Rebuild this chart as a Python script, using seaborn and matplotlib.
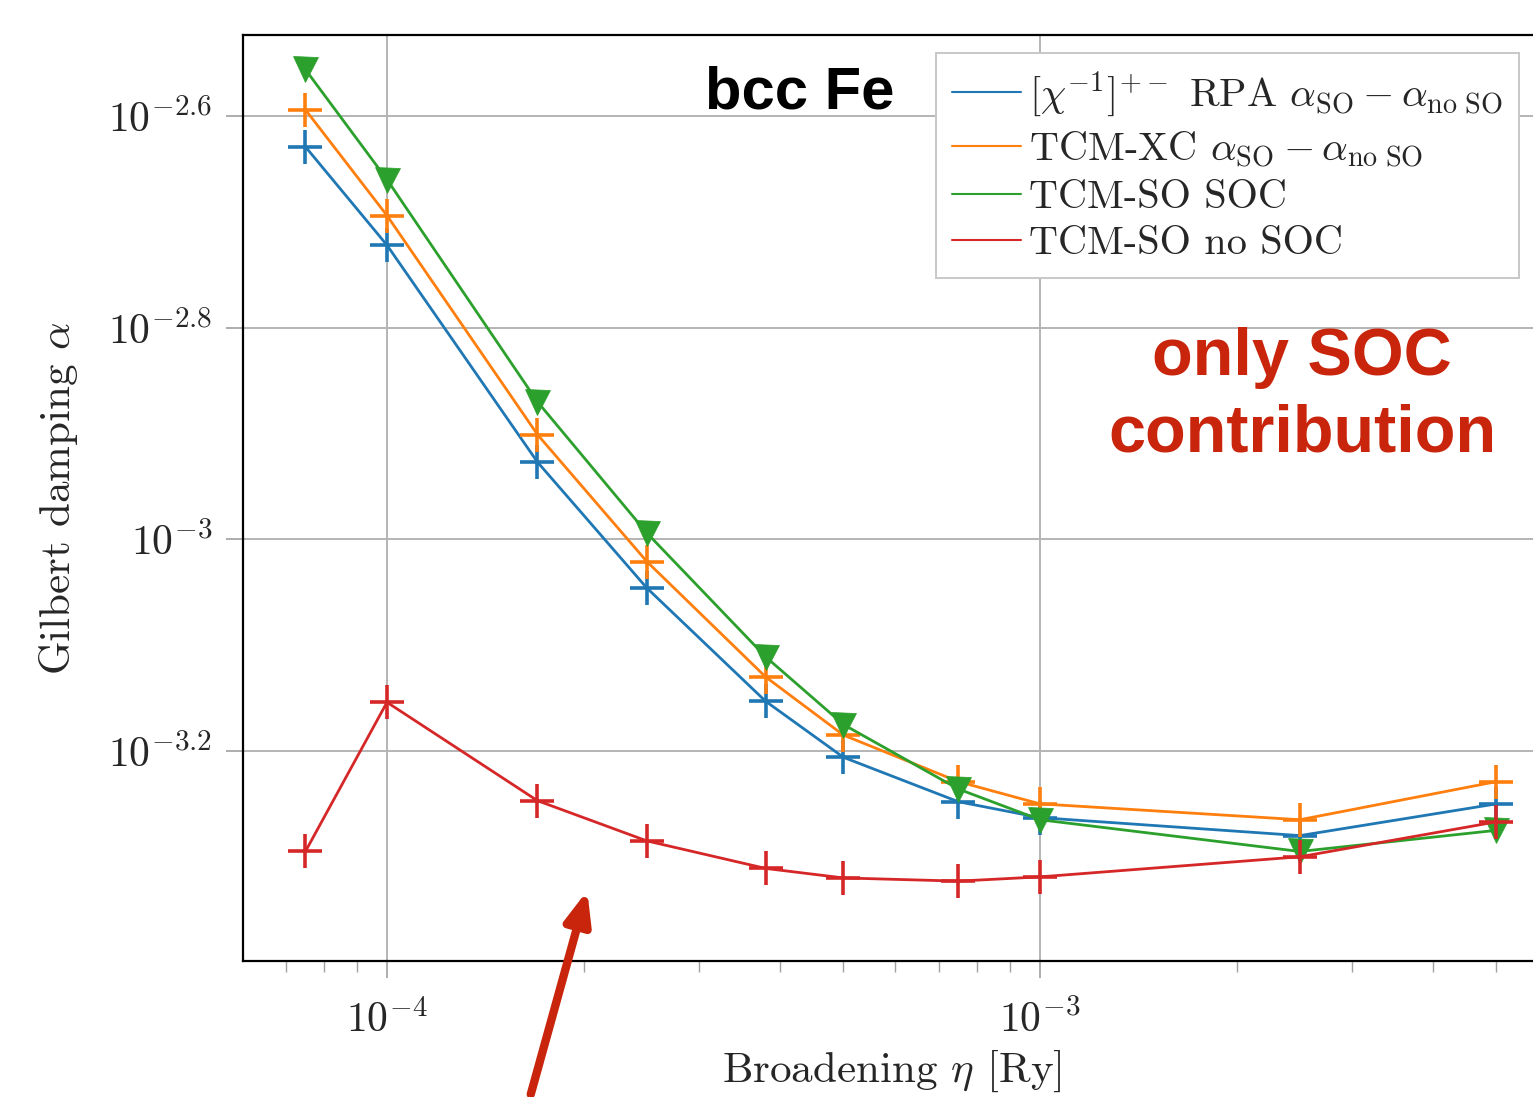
import matplotlib

matplotlib.use("Agg")
import matplotlib.pyplot as plt
import numpy as np
import pandas as pd
import seaborn as sns
from matplotlib.lines import Line2D
from matplotlib.ticker import FixedLocator, FixedFormatter, NullFormatter

# ---------------------------------------------------------------------------
# data (log10 of alpha)
# ---------------------------------------------------------------------------
eta = [7.5e-5, 1.0e-4, 1.7e-4, 2.5e-4, 3.8e-4, 5.0e-4, 7.5e-4, 1.0e-3, 2.5e-3, 5.0e-3]

log_rpa = [-2.629, -2.722, -2.927, -3.046, -3.153, -3.206, -3.248, -3.263, -3.280, -3.250]
log_xc = [-2.594, -2.694, -2.901, -3.021, -3.130, -3.185, -3.229, -3.250, -3.265, -3.229]
log_so = [-2.556, -2.660, -2.870, -2.994, -3.111, -3.175, -3.236, -3.265, -3.295, -3.275]
log_nosoc = [-3.295, -3.154, -3.247, -3.285, -3.311, -3.320, -3.323, -3.319, -3.300, -3.267]

labels = [
    r"$[\chi^{-1}]^{+-}$ RPA $\alpha_{\rm SO} - \alpha_{\rm no\ SO}$",
    r"TCM-XC $\alpha_{\rm SO} - \alpha_{\rm no\ SO}$",
    "TCM-SO SOC",
    "TCM-SO no SOC",
]
colors = ["#1f77b4", "#ff7f0e", "#2ca02c", "#d62728"]
markers = ["+", "+", "v", "+"]

y_ticks = [-2.6, -2.8, -3.0, -3.2]
y_ticklabels = [r"$10^{-2.6}$", r"$10^{-2.8}$", r"$10^{-3}$", r"$10^{-3.2}$"]

sns.set_theme(style="whitegrid")
plt.rcParams["font.family"] = ["cmr10", "DejaVu Serif"]
plt.rcParams["mathtext.fontset"] = "cm"
plt.rcParams["axes.unicode_minus"] = False
plt.rcParams["axes.formatter.use_mathtext"] = True

W, H = 1533, 1097
fig = plt.figure(figsize=(W / 100, H / 100), dpi=100)
ax = fig.add_axes([243 / W, 1 - 961 / H, 1297 / W, 926 / H])

series = [log_rpa, log_xc, log_so, log_nosoc]
for vals, lab, col, mk in zip(series, labels, colors, markers):
    df = pd.DataFrame({"eta": eta, "alpha": 10 ** np.array(vals)})
    if mk == "+":
        kw = dict(markersize=24, markeredgewidth=2.6, markeredgecolor=col)
    else:
        kw = dict(markersize=18, markeredgewidth=0.5, markeredgecolor=col,
                  markerfacecolor=col)
    sns.lineplot(data=df, x="eta", y="alpha", color=col, marker=mk,
                 linewidth=2.0, ax=ax, label=lab, legend=False, **kw)

ax.set_xscale("log")
ax.set_yscale("log")
ax.set_xlim(10 ** -4.2205, 10 ** -2.2343)
ax.set_ylim(10 ** -3.3985, 10 ** -2.5234)

ax.yaxis.set_major_locator(FixedLocator([10 ** v for v in y_ticks]))
ax.yaxis.set_major_formatter(FixedFormatter(y_ticklabels))
ax.yaxis.set_minor_locator(FixedLocator([]))
ax.yaxis.set_minor_formatter(NullFormatter())
ax.xaxis.set_major_locator(FixedLocator([1e-4, 1e-3]))
ax.xaxis.set_major_formatter(FixedFormatter([r"$10^{-4}$", r"$10^{-3}$"]))
minor_x = [m * 10.0 ** e for e in (-5, -4, -3) for m in range(2, 10)]
ax.xaxis.set_minor_locator(FixedLocator(minor_x))
ax.xaxis.set_minor_formatter(NullFormatter())

ax.grid(True, which="major", color="#b4b4b4", linewidth=1.4)
ax.grid(False, which="minor")
ax.tick_params(axis="both", which="major", direction="out", length=12,
               width=1.2, color="#a0a0a0", labelsize=30, pad=10)
ax.tick_params(axis="x", which="major", pad=16, bottom=True)
ax.tick_params(axis="x", which="minor", direction="out", length=8,
               width=1.0, color="#a0a0a0", bottom=True)
ax.tick_params(axis="y", which="major", left=True)
for sp in ax.spines.values():
    sp.set_edgecolor("black")
    sp.set_linewidth(1.6)
ax.set_facecolor("white")

ax.set_xlabel(r"Broadening $\eta$ [Ry]", fontsize=31, labelpad=6)
ax.set_ylabel(r"Gilbert damping $\alpha$", fontsize=31, labelpad=20)

handles = [Line2D([], [], color=c, linewidth=1.5) for c in colors]
leg = ax.legend(handles, labels, loc="upper left",
                bbox_to_anchor=((936 - 243) / 1297, 1 - (53 - 35) / 926),
                borderaxespad=0, fontsize=29, frameon=True, fancybox=False,
                edgecolor="#c8c8c8", framealpha=1, handlelength=1.7,
                handletextpad=0.2, labelspacing=0.25, borderpad=0.4)
leg.get_frame().set_linewidth(1.4)

fig.text(800 / W, 1 - 93 / H, "bcc Fe", fontsize=43, fontweight="bold",
         family="Liberation Sans", ha="center", va="center", color="black")
fig.text(1302 / W, 1 - 396 / H, "only SOC\ncontribution", fontsize=48,
         fontweight="bold", family="Liberation Sans", ha="center",
         va="center", color="#c8250c", linespacing=1.3)

# arrow pointing at the no-SOC curve, starting below the axes
ax.annotate("", xy=(588 / W, 1 - 888 / H), xycoords="figure fraction",
            xytext=(530 / W, 0.0), textcoords="figure fraction",
            arrowprops=dict(arrowstyle="-|>,head_length=1.6,head_width=0.65",
                            color="#c8250c", linewidth=6),
            annotation_clip=False)

fig.savefig("out.png", dpi=100, facecolor="white")
